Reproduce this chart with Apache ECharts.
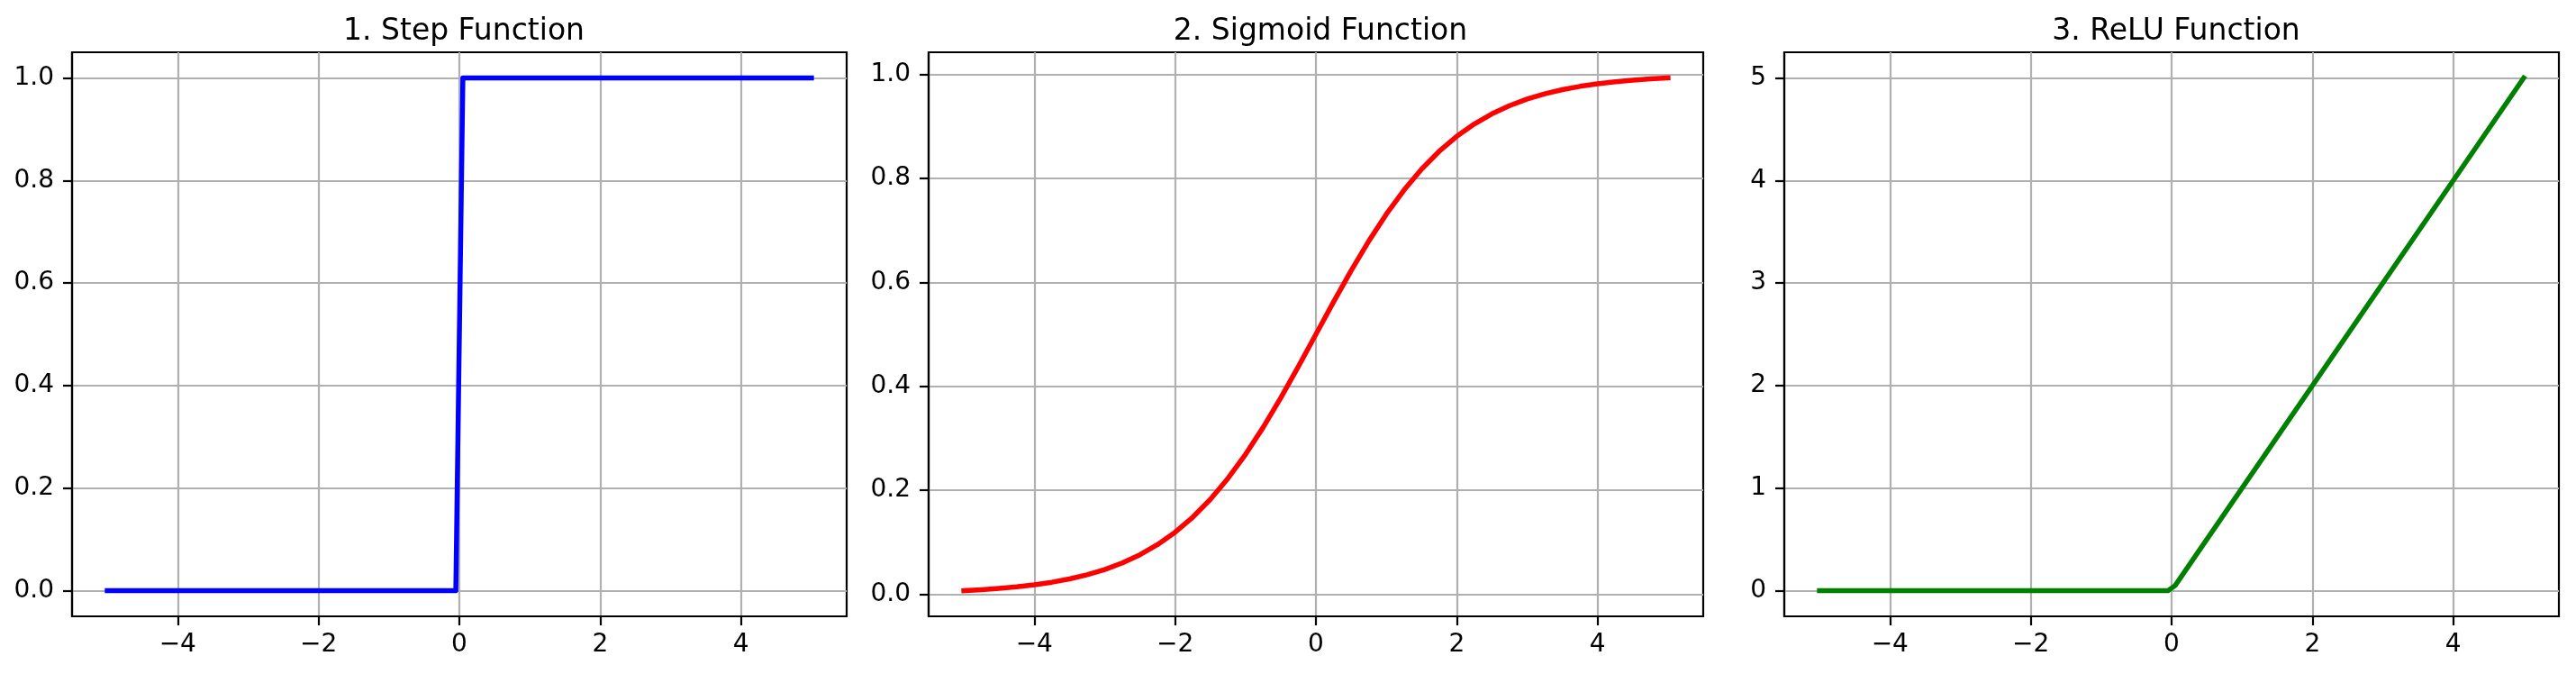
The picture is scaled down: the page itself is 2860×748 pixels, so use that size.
<!DOCTYPE html>
<html>
<head>
<meta charset="utf-8">
<title>Activation functions</title>
<script src="https://cdn.jsdelivr.net/npm/echarts@6/dist/echarts.min.js"></script>
<style>
  html, body { margin: 0; padding: 0; background: #fff; }
  #chart { width: 2860px; height: 748px; }
</style>
</head>
<body>
<div id="chart"></div>
<script>
// titles of the three panels
var titles = ['1. Step Function', '2. Sigmoid Function', '3. ReLU Function'];

// tick values
var xTicks = [-4, -2, 0, 2, 4];
var yTicksUnit = [0, 0.2, 0.4, 0.6, 0.8, 1.0];
var yTicksRelu = [0, 1, 2, 3, 4, 5];

// step function (jump between the two samples around 0)
var stepX = [-5, -0.05, 0.05, 5];
var stepY = [0, 0, 1, 1];

// sigmoid
var sigX = [-5, -4.75, -4.5, -4.25, -4, -3.75, -3.5, -3.25, -3, -2.75, -2.5, -2.25, -2, -1.75, -1.5, -1.25, -1, -0.75, -0.5, -0.25,
            0, 0.25, 0.5, 0.75, 1, 1.25, 1.5, 1.75, 2, 2.25, 2.5, 2.75, 3, 3.25, 3.5, 3.75, 4, 4.25, 4.5, 4.75, 5];
var sigY = [0.0067, 0.0086, 0.0110, 0.0141, 0.0180, 0.0230, 0.0293, 0.0373, 0.0474, 0.0601, 0.0759, 0.0953, 0.1192, 0.1480, 0.1824, 0.2227, 0.2689, 0.3208, 0.3775, 0.4378,
            0.5, 0.5622, 0.6225, 0.6792, 0.7311, 0.7773, 0.8176, 0.8520, 0.8808, 0.9047, 0.9241, 0.9399, 0.9526, 0.9627, 0.9707, 0.9770, 0.9820, 0.9859, 0.9890, 0.9914, 0.9933];

// relu
var reluX = [-5, -0.05, 0.05, 5];
var reluY = [0, 0, 0.05, 5];

var font = 'DejaVu Sans';
var lefts = [80, 1031, 1981];
var panelW = 860;

function pairs(xs, ys) {
    var out = [];
    for (var i = 0; i < xs.length; i++) {
        out.push([xs[i], ys[i]]);
    }
    return out;
}

function fmtX(v) {
    return v < 0 ? '\u2212' + Math.abs(v) : String(v);
}

var yRanges = [[-0.05, 1.05], [-0.0426, 1.0426], [-0.25, 5.25]];
var yTickSets = [yTicksUnit, yTicksUnit, yTicksRelu];
var yFmt = [
    function (v) { return v.toFixed(1); },
    function (v) { return v.toFixed(1); },
    function (v) { return String(Math.round(v)); }
];

var grids = [], xAxes = [], yAxes = [], titleList = [];
for (var i = 0; i < 3; i++) {
    grids.push({
        left: lefts[i], top: 58, width: panelW, height: 626,
        show: true, borderColor: '#000', borderWidth: 2.2, backgroundColor: 'transparent'
    });
    titleList.push({
        text: titles[i],
        left: lefts[i] + panelW / 2, top: 14, textAlign: 'center',
        textStyle: { fontFamily: font, fontSize: 33, fontWeight: 'normal', color: '#000' }
    });
    xAxes.push({
        type: 'value', gridIndex: i, min: -5.5, max: 5.5,
        axisLine: { show: true, onZero: false, lineStyle: { color: '#000', width: 2.2 } },
        axisTick: { show: true, inside: false, length: 10, customValues: xTicks, lineStyle: { color: '#000', width: 2.2 } },
        axisLabel: { customValues: xTicks, formatter: fmtX, margin: 18, color: '#000', fontFamily: font, fontSize: 28 },
        splitLine: { show: true, lineStyle: { color: '#b0b0b0', width: 2.2 } }
    });
    yAxes.push({
        type: 'value', gridIndex: i, min: yRanges[i][0], max: yRanges[i][1],
        axisLine: { show: true, onZero: false, lineStyle: { color: '#000', width: 2.2 } },
        axisTick: { show: true, inside: false, length: 10, customValues: yTickSets[i], lineStyle: { color: '#000', width: 2.2 } },
        axisLabel: { customValues: yTickSets[i], formatter: yFmt[i], margin: 20, color: '#000', fontFamily: font, fontSize: 28 },
        splitLine: { show: true, lineStyle: { color: '#b0b0b0', width: 2.2 } }
    });
}

function lineSeries(idx, data, color) {
    return {
        type: 'line', xAxisIndex: idx, yAxisIndex: idx, data: data,
        showSymbol: false, symbol: 'none', animation: false,
        lineStyle: { color: color, width: 5.5, cap: 'square', join: 'round' }
    };
}

var chart = echarts.init(document.getElementById('chart'), null, { renderer: 'canvas' });
chart.setOption({
    backgroundColor: '#fff',
    animation: false,
    title: titleList,
    grid: grids,
    xAxis: xAxes,
    yAxis: yAxes,
    series: [
        lineSeries(0, pairs(stepX, stepY), '#0000ff'),
        lineSeries(1, pairs(sigX, sigY), '#ff0000'),
        lineSeries(2, pairs(reluX, reluY), '#008000')
    ]
});
</script>
</body>
</html>
